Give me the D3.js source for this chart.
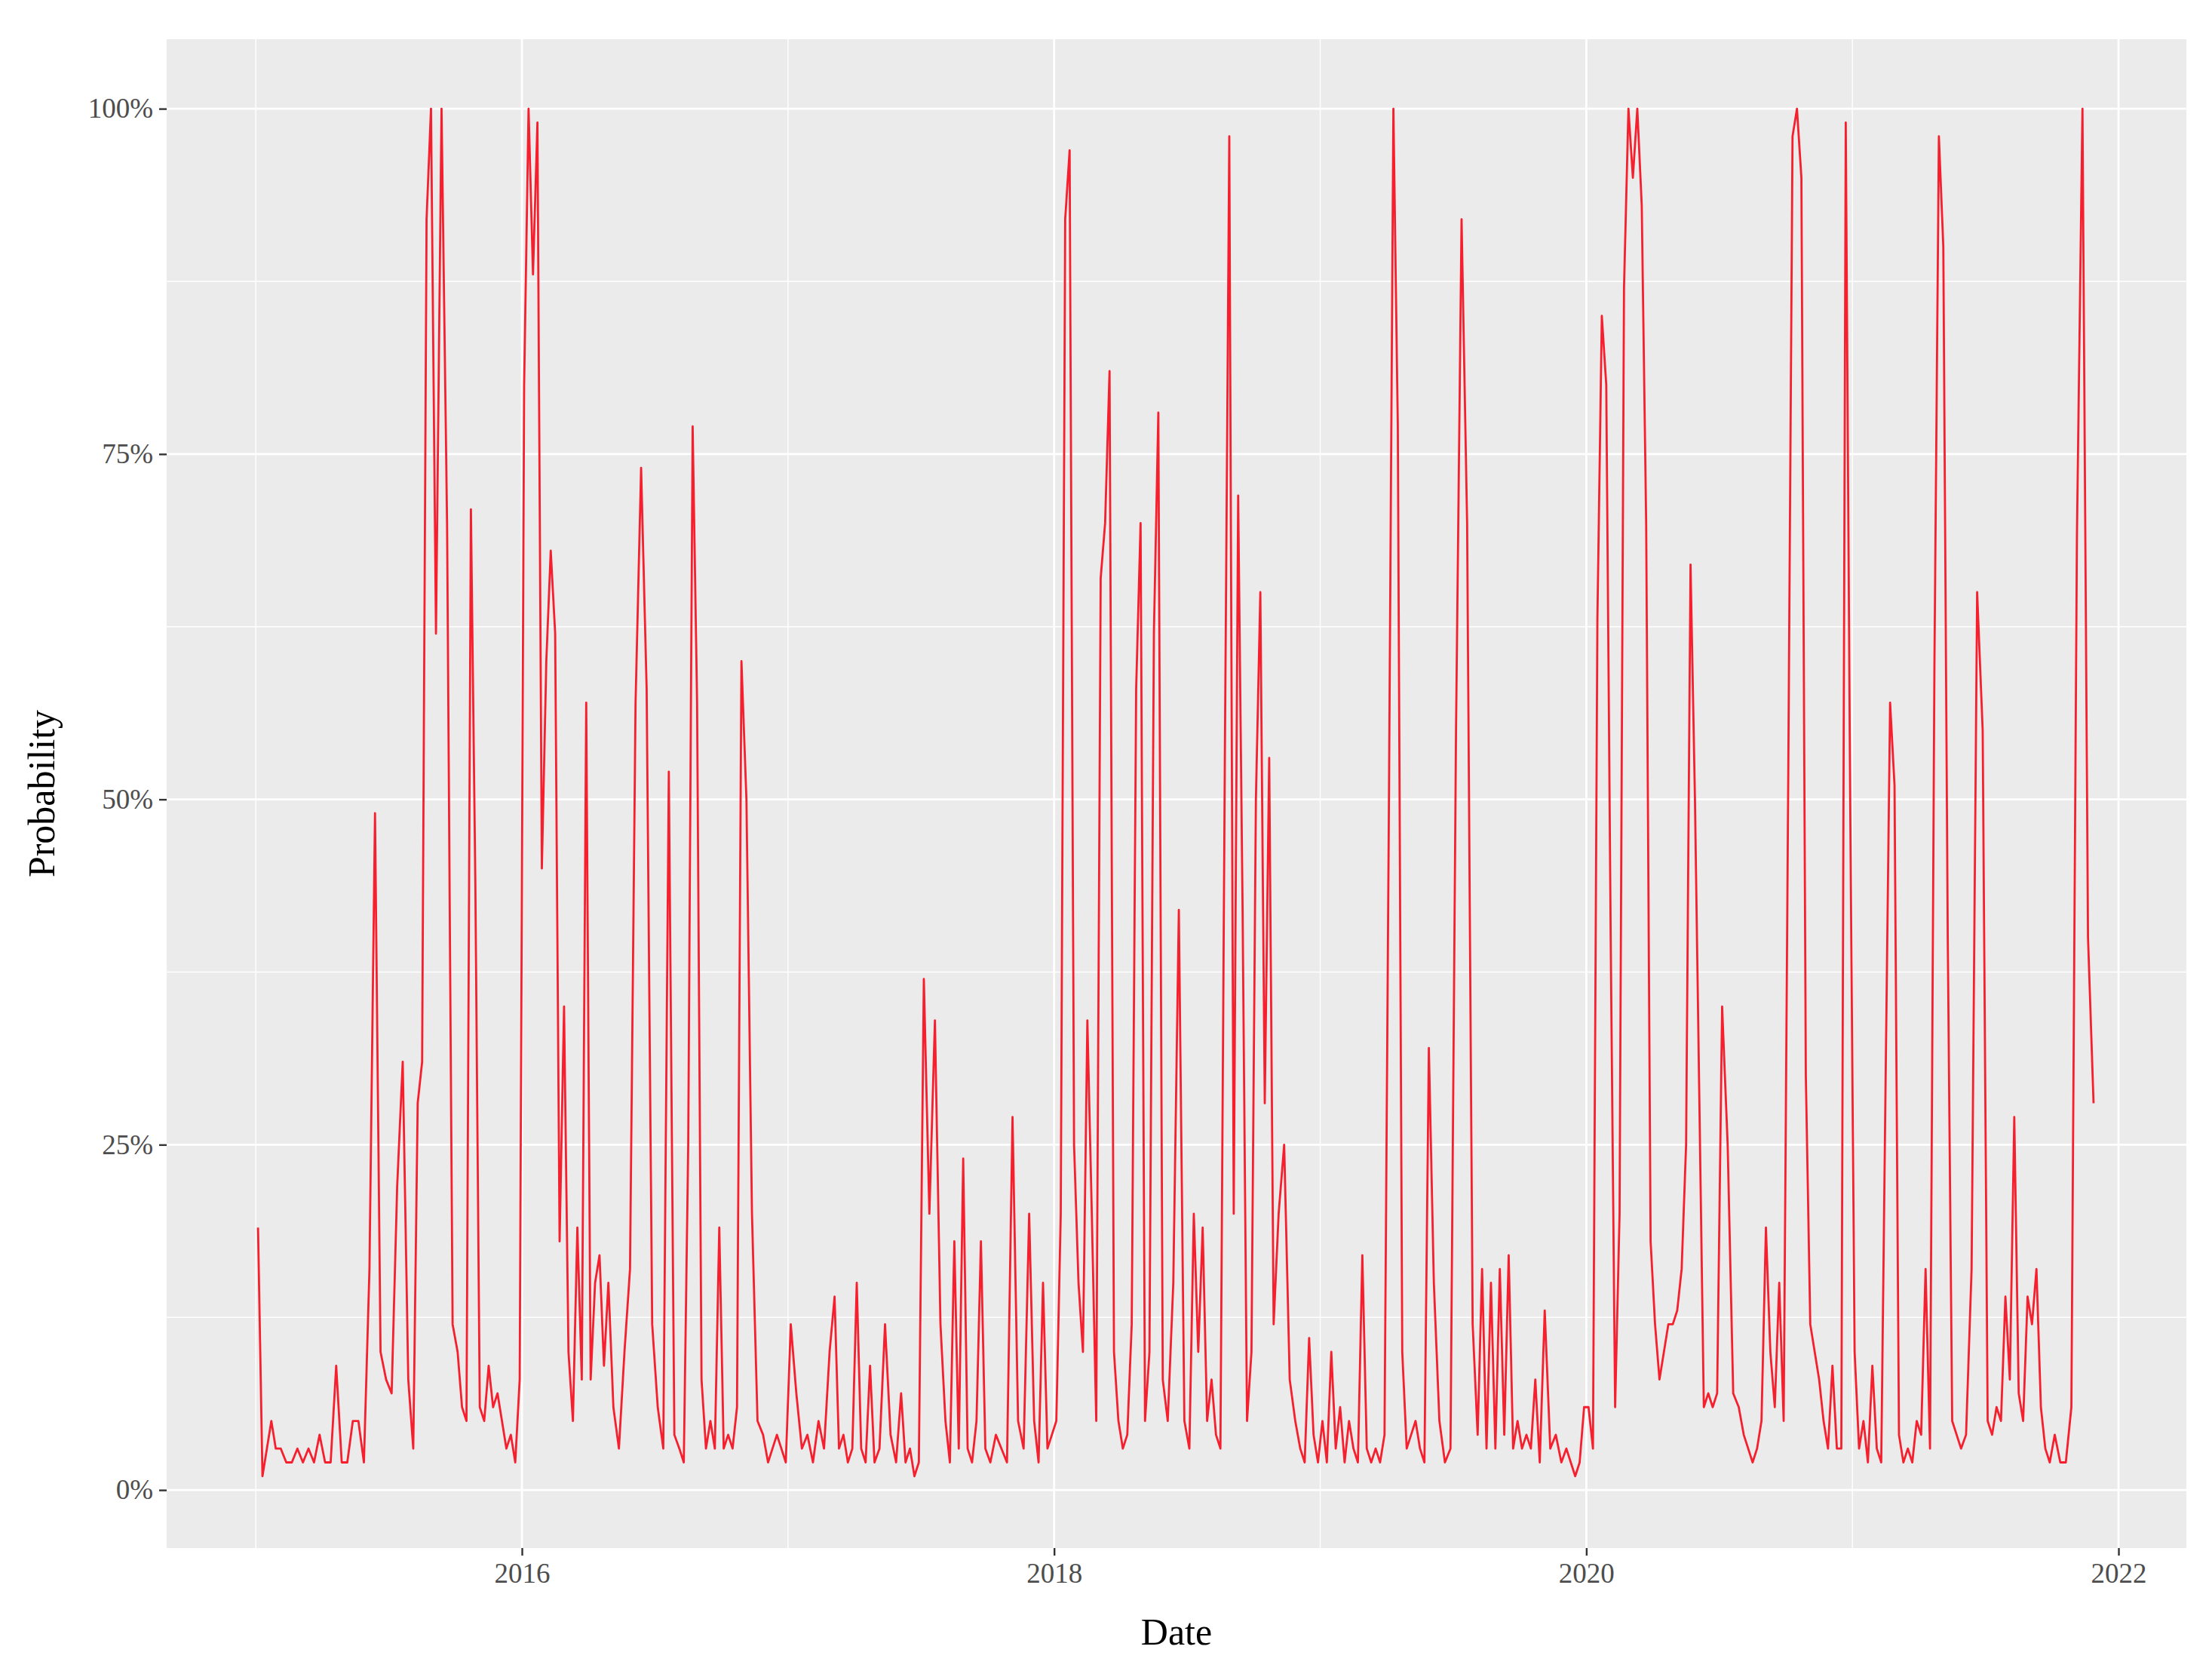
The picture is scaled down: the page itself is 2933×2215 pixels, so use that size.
<!DOCTYPE html>
<html><head><meta charset="utf-8">
<script src="https://cdn.jsdelivr.net/npm/d3@7"></script>
<style>body{margin:0;background:#fff}</style></head>
<body><svg id="c" width="2933" height="2215"></svg>
<script>
// Monthly blocks of weekly probability readings (%), Jan 2015 onward
const years = [2015,2016,2017,2018,2019,2020,2021];
const months = ["Jan","Feb","Mar","Apr","May","Jun","Jul","Aug","Sep","Oct","Nov","Dec"];
const values2015 = [[19,1,3,5,3],[3,2,2,3],[2,3,2,4],[2,2,9,2],[2,5,5,2],[16,49,10,8],[7,22,31,8],[3,28,31,92,100],[62,100,70,12],[10,6,5,71,44],[6,5,9,6,7],[5,3,4,2,8]];
const values2016 = [[80,100,88,99,45],[60,68,62,18,35],[10,5,19,8,57],[8,15,17,9,15],[6,3,10,16],[57,74,58,12],[6,3,52,4],[3,2,25,77,57],[8,3,5,3,19],[3,4,3,6,60],[50,20,5,4],[2,3,4,3,2]];
const values2017 = [[12,7,3,4],[2,5,3,10],[14,3,4,2,3],[15,3,2,9,2],[3,12,4,2],[7,2,3,1,2],[37,20,34,12],[5,2,18,3,24],[3,2,5,18,3],[2,4,3,2],[27,5,3,20],[5,2,15,3,4]];
const values2018 = [[5,20,92,97,25],[15,10,34,20,5],[66,70,81,10,5],[3,4,12,58,70],[5,10,62,78,8],[5,15,42,5],[3,20,10,19,5],[8,4,3,53,98],[20,72,42,5,10],[50,65,28,53,12],[20,25,8,5],[3,2,11,4,2]];
const values2019 = [[5,2,10,3,6],[2,5,3,2,17],[3,2,3,2,4],[50,100,77,10,3],[4,5,3,2,32],[15,5,2,3],[55,92,70,12],[4,16,3,15,3],[16,4,17,3,5],[3,4,3,8,2],[13,3,4,2],[3,2,1,2,6]];
const values2020 = [[6,3,63,85,80],[40,6,20,87,100],[95,100,93,70,18],[12,8,10,12,12],[13,16,25,67,50],[28,6,7,6,7],[35,25,7,6],[4,3,2,3,5],[19,10,6,15,5],[50,98,100,95,30],[12,10,8,5,3],[9,3,3,99,50]];
const values2021 = [[10,3,5,2,9],[3,2,30,57,51],[4,2,3,2,5],[4,16,3,60,98],[90,40,5,4,3],[4,16,65,55],[5,4,6,5,14],[8,27,7,5,14],[12,16,6,3,2],[4,2,2,6],[69,100,40,28]];
const xTicks = [2016,2018,2020,2022];
const yTicks = [0,0.25,0.5,0.75,1];
const yTickLabels = ["0%","25%","50%","75%","100%"];

const all = [values2015,values2016,values2017,values2018,values2019,values2020,values2021];
const data = [];
all.forEach((yr,yi)=>yr.forEach((m,mi)=>m.forEach((v,i)=>{
  data.push({t: years[yi] + (mi + (i+0.5)/m.length)/12, v: v/100});
})));

const L=221,R=2899,T=52,B=2052;
const x = d3.scaleLinear().domain([2014.665,2022.255]).range([L,R]);
const y = d3.scaleLinear().domain([-0.042,1.0503]).range([B,T]);
const svg = d3.select("#c");
svg.append("rect").attr("x",L).attr("y",T).attr("width",R-L).attr("height",B-T).attr("fill","#EBEBEB");
const g = svg.append("g");
[2015,2017,2019,2021].forEach(v=>g.append("line").attr("x1",x(v)).attr("x2",x(v)).attr("y1",T).attr("y2",B).attr("stroke","#fff").attr("stroke-width",1.4));
[0.125,0.375,0.625,0.875].forEach(v=>g.append("line").attr("x1",L).attr("x2",R).attr("y1",y(v)).attr("y2",y(v)).attr("stroke","#fff").attr("stroke-width",1.4));
xTicks.forEach(v=>g.append("line").attr("x1",x(v)).attr("x2",x(v)).attr("y1",T).attr("y2",B).attr("stroke","#fff").attr("stroke-width",2.8));
yTicks.forEach(v=>g.append("line").attr("x1",L).attr("x2",R).attr("y1",y(v)).attr("y2",y(v)).attr("stroke","#fff").attr("stroke-width",2.8));

svg.append("path").datum(data).attr("fill","none").attr("stroke","#F51F2E").attr("stroke-width",2.8)
  .attr("stroke-linejoin","round")
  .attr("d", d3.line().x(d=>x(d.t)).y(d=>y(d.v)));

const xa = svg.append("g").attr("transform",`translate(0,${B})`).call(d3.axisBottom(x).tickValues(xTicks).tickFormat(d3.format("d")).tickSize(10).tickPadding(10));
const ya = svg.append("g").attr("transform",`translate(${L},0)`).call(d3.axisLeft(y).tickValues(yTicks).tickFormat((d,i)=>yTickLabels[i]).tickSize(10).tickPadding(8));
[xa,ya].forEach(a=>{a.select(".domain").remove();a.selectAll("line").attr("stroke","#333").attr("stroke-width",2.4);
  a.selectAll("text").attr("font-family","Liberation Serif").attr("font-size",37).attr("fill","#4D4D4D");});
svg.append("text").attr("x",(L+R)/2).attr("y",2180).attr("text-anchor","middle").attr("font-family","Liberation Serif").attr("font-size",50).attr("fill","#000").text("Date");
svg.append("text").attr("transform",`translate(72,${(T+B)/2}) rotate(-90)`).attr("text-anchor","middle").attr("font-family","Liberation Serif").attr("font-size",50).attr("fill","#000").text("Probability");
</script></body></html>
